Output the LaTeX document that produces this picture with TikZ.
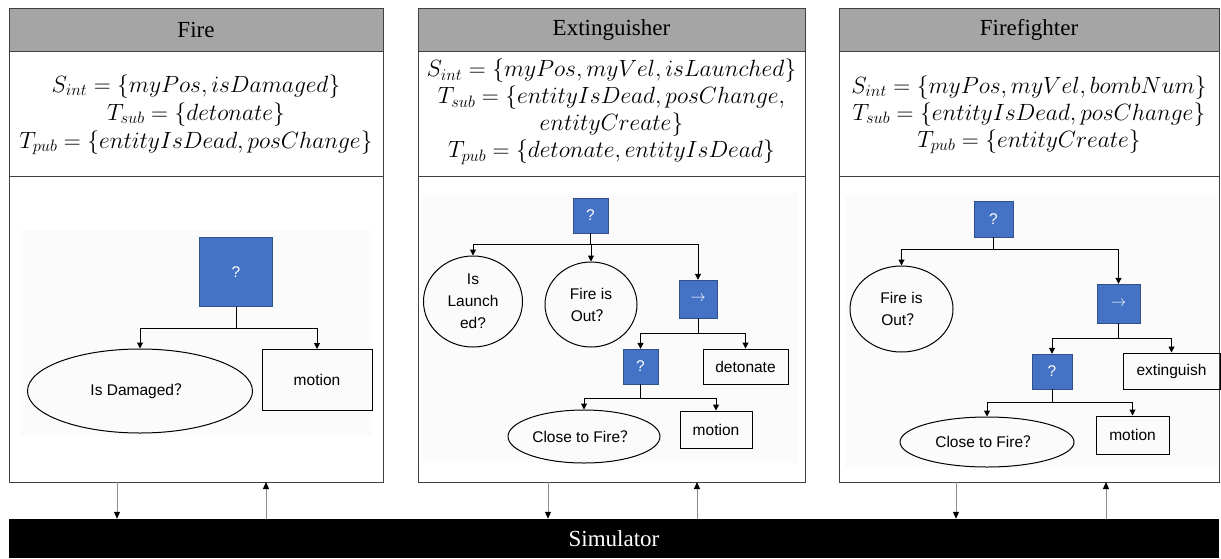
\RequirePackage{fix-cm}
\documentclass[tikz,border=0pt]{standalone}
\usepackage{fontspec}
\setmainfont{Liberation Serif}
\setsansfont{Liberation Sans}
\newfontfamily\cjk{Noto Sans CJK SC}
\usetikzlibrary{shapes.geometric,arrows.meta}
\definecolor{BTblau}{HTML}{4472C4}
\definecolor{BTrand}{HTML}{2F528F}
\definecolor{Kopfgrau}{HTML}{A5A5A5}
\definecolor{Rahmengrau}{HTML}{404040}
\definecolor{Pfeilgrau}{HTML}{8C8C8C}
\newcommand{\fq}{{\cjk ？}}
\newcommand{\panelunten}{482}
\tikzset{
  rahmen/.style={draw=Rahmengrau, line width=1pt},
  kopf/.style={rahmen, fill=Kopfgrau, font=\fontsize{23}{23}\selectfont,
    minimum height=43pt, inner sep=0pt},
  formel/.style={align=center, font=\fontsize{23.5}{#1}\selectfont},
  frage/.style={draw=BTrand, fill=BTblau, text=white, inner sep=0pt,
    font=\sffamily\fontsize{15.5}{15.5}\selectfont},
  bedingung/.style={ellipse, draw, line width=1pt, inner sep=0pt, align=center,
    font=\sffamily\fontsize{15.5}{22}\selectfont},
  aktion/.style={draw, line width=1pt, inner sep=0pt,
    font=\sffamily\fontsize{15.5}{15.5}\selectfont},
  ast/.style={line width=1pt, -{Triangle[length=6pt,width=6pt]}},
  signal/.style={draw=Pfeilgrau, line width=1pt,
    -{Triangle[length=7pt,width=6pt,color=black]}},
}
% Kasten: links, rechts, Titel, Name
\newcommand{\agentbox}[4]{%
  \draw[rahmen] (#1,8) rectangle (#2,\panelunten);
  \draw[rahmen] (#1,176) -- (#2,176);
  \node[kopf, minimum width={(#2-#1)*1pt}] (#4) at ({(#1+#2)/2},29.5) {#3};}

\begin{document}
\begin{tikzpicture}[x=1pt, y=-1pt]
\useasboundingbox (0,0) rectangle (1221,558);

% ====================================================================
%
%         Kaesten
%
% ====================================================================

  % Hintergrund der Baeume
  \fill[black!1.5] (20,230) rectangle (372,435);
  \fill[black!1.5] (423,193) rectangle (797,463);
  \fill[black!1.5] (845,195) rectangle (1218,468);

  \agentbox{9}{383}{Fire}{fire}
  \agentbox{418}{805}{Extinguisher}{ext}
  \agentbox{839}{1219}{Firefighter}{ff}

  % Formeln
  \node[formel=28] (fire-f) at (196,115) {%
    $S_{int}=\{myPos, isDamaged\}$\\
    $T_{sub}=\{detonate\}$\\
    $T_{pub}=\{entityIsDead, posChange\}$};
  \node[formel=27] (ext-f) at (611.5,112) {%
    $S_{int}=\{myPos, myVel, isLaunched\}$\\
    $T_{sub}=\{entityIsDead, posChange,$\\
    $entityCreate\}$\\
    $T_{pub}=\{detonate, entityIsDead\}$};
  \node[formel=27] (ff-f) at (1029,115) {%
    $S_{int}=\{myPos, myVel, bombNum\}$\\
    $T_{sub}=\{entityIsDead, posChange\}$\\
    $T_{pub}=\{entityCreate\}$};

% ====================================================================
%
%         Baeume
%
% ====================================================================

  % Baum Fire
  \node[frage, minimum width=73pt, minimum height=69pt] (f-sel) at (236,272) {?};
  \node[bedingung, minimum width=225pt, minimum height=84pt] (f-dmg) at (140,391) {Is Damaged\fq};
  \node[aktion, minimum width=110pt, minimum height=61pt] (f-mot) at (317,380) {motion};
  \coordinate (f-bar) at (236,328);
  \draw[ast] (f-sel.south) -- (f-bar) -| (f-dmg.north);
  \draw[ast] (f-bar) -| (f-mot.north);

  % Baum Extinguisher
  \node[frage, minimum size=35pt] (e-sel) at (590.5,215.5) {?};
  \node[bedingung, minimum width=99pt, minimum height=91pt] (e-lau) at (473,301.5) {Is\\Launch\\ed?};
  \node[bedingung, minimum width=92pt, minimum height=85pt] (e-out) at (591,304.5) {Fire is\\Out\fq};
  \node[frage, minimum size=38pt] (e-seq) at (698,299) {$\rightarrow$};
  \node[frage, minimum size=35pt] (e-sel2) at (640.5,366.5) {?};
  \node[aktion, minimum width=85pt, minimum height=35pt] (e-det) at (745.5,366.5) {detonate};
  \node[bedingung, minimum width=152pt, minimum height=53pt] (e-cls) at (584,436.5) {Close to Fire\fq};
  \node[aktion, minimum width=72pt, minimum height=37pt] (e-mot) at (716,429.5) {motion};
  \coordinate (e-bar) at (590.5,244);
  \coordinate (e-bar2) at (698,333);
  \coordinate (e-bar3) at (640.5,398);
  \draw[ast] (e-sel.south) -- (e-bar) -| (e-lau.north);
  \draw[ast] (e-bar) -| (e-out.north);
  \draw[ast] (e-bar) -| (e-seq.north);
  \draw[ast] (e-seq.south) -- (e-bar2) -| (e-sel2.north);
  \draw[ast] (e-bar2) -| (e-det.north);
  \draw[ast] (e-sel2.south) -- (e-bar3) -| (e-cls.north);
  \draw[ast] (e-bar3) -| (e-mot.north);

  % Baum Firefighter
  \node[frage, minimum width=39pt, minimum height=36pt] (w-sel) at (993.5,219) {?};
  \node[bedingung, minimum width=103pt, minimum height=86pt] (w-out) at (901.5,309) {Fire is\\Out\fq};
  \node[frage, minimum width=43pt, minimum height=39pt] (w-seq) at (1118.5,303.5) {$\rightarrow$};
  \node[frage, minimum width=40pt, minimum height=35pt] (w-sel2) at (1052,371.5) {?};
  \node[aktion, minimum width=97pt, minimum height=36pt] (w-ext) at (1171.5,371) {extinguish};
  \node[bedingung, minimum width=174pt, minimum height=50pt] (w-cls) at (987,442) {Close to Fire\fq};
  \node[aktion, minimum width=73pt, minimum height=38pt] (w-mot) at (1132.5,435) {motion};
  \coordinate (w-bar) at (993.5,249);
  \coordinate (w-bar2) at (1118.5,338);
  \coordinate (w-bar3) at (1052,402);
  \draw[ast] (w-sel.south) -- (w-bar) -| (w-out.north);
  \draw[ast] (w-bar) -| (w-seq.north);
  \draw[ast] (w-seq.south) -- (w-bar2) -| (w-sel2.north);
  \draw[ast] (w-bar2) -| (w-ext.north);
  \draw[ast] (w-sel2.south) -- (w-bar3) -| (w-cls.north);
  \draw[ast] (w-bar3) -| (w-mot.north);

% ====================================================================
%
%         Simulator
%
% ====================================================================

  \node[fill=black, text=white, minimum width=1210pt, minimum height=39pt, inner sep=0pt,
    font=\fontsize{23}{23}\selectfont] (sim) at (614,538.5) {Simulator};

  % Pfeile
  \coordinate (f-ab) at (117,\panelunten);
  \coordinate (f-auf) at (266,\panelunten);
  \coordinate (e-ab) at (548,\panelunten);
  \coordinate (e-auf) at (697,\panelunten);
  \coordinate (w-ab) at (956,\panelunten);
  \coordinate (w-auf) at (1106,\panelunten);
  \draw[signal] (f-ab) -- (f-ab|-sim.north);
  \draw[signal] (f-auf|-sim.north) -- (f-auf);
  \draw[signal] (e-ab) -- (e-ab|-sim.north);
  \draw[signal] (e-auf|-sim.north) -- (e-auf);
  \draw[signal] (w-ab) -- (w-ab|-sim.north);
  \draw[signal] (w-auf|-sim.north) -- (w-auf);

\end{tikzpicture}
\end{document}
